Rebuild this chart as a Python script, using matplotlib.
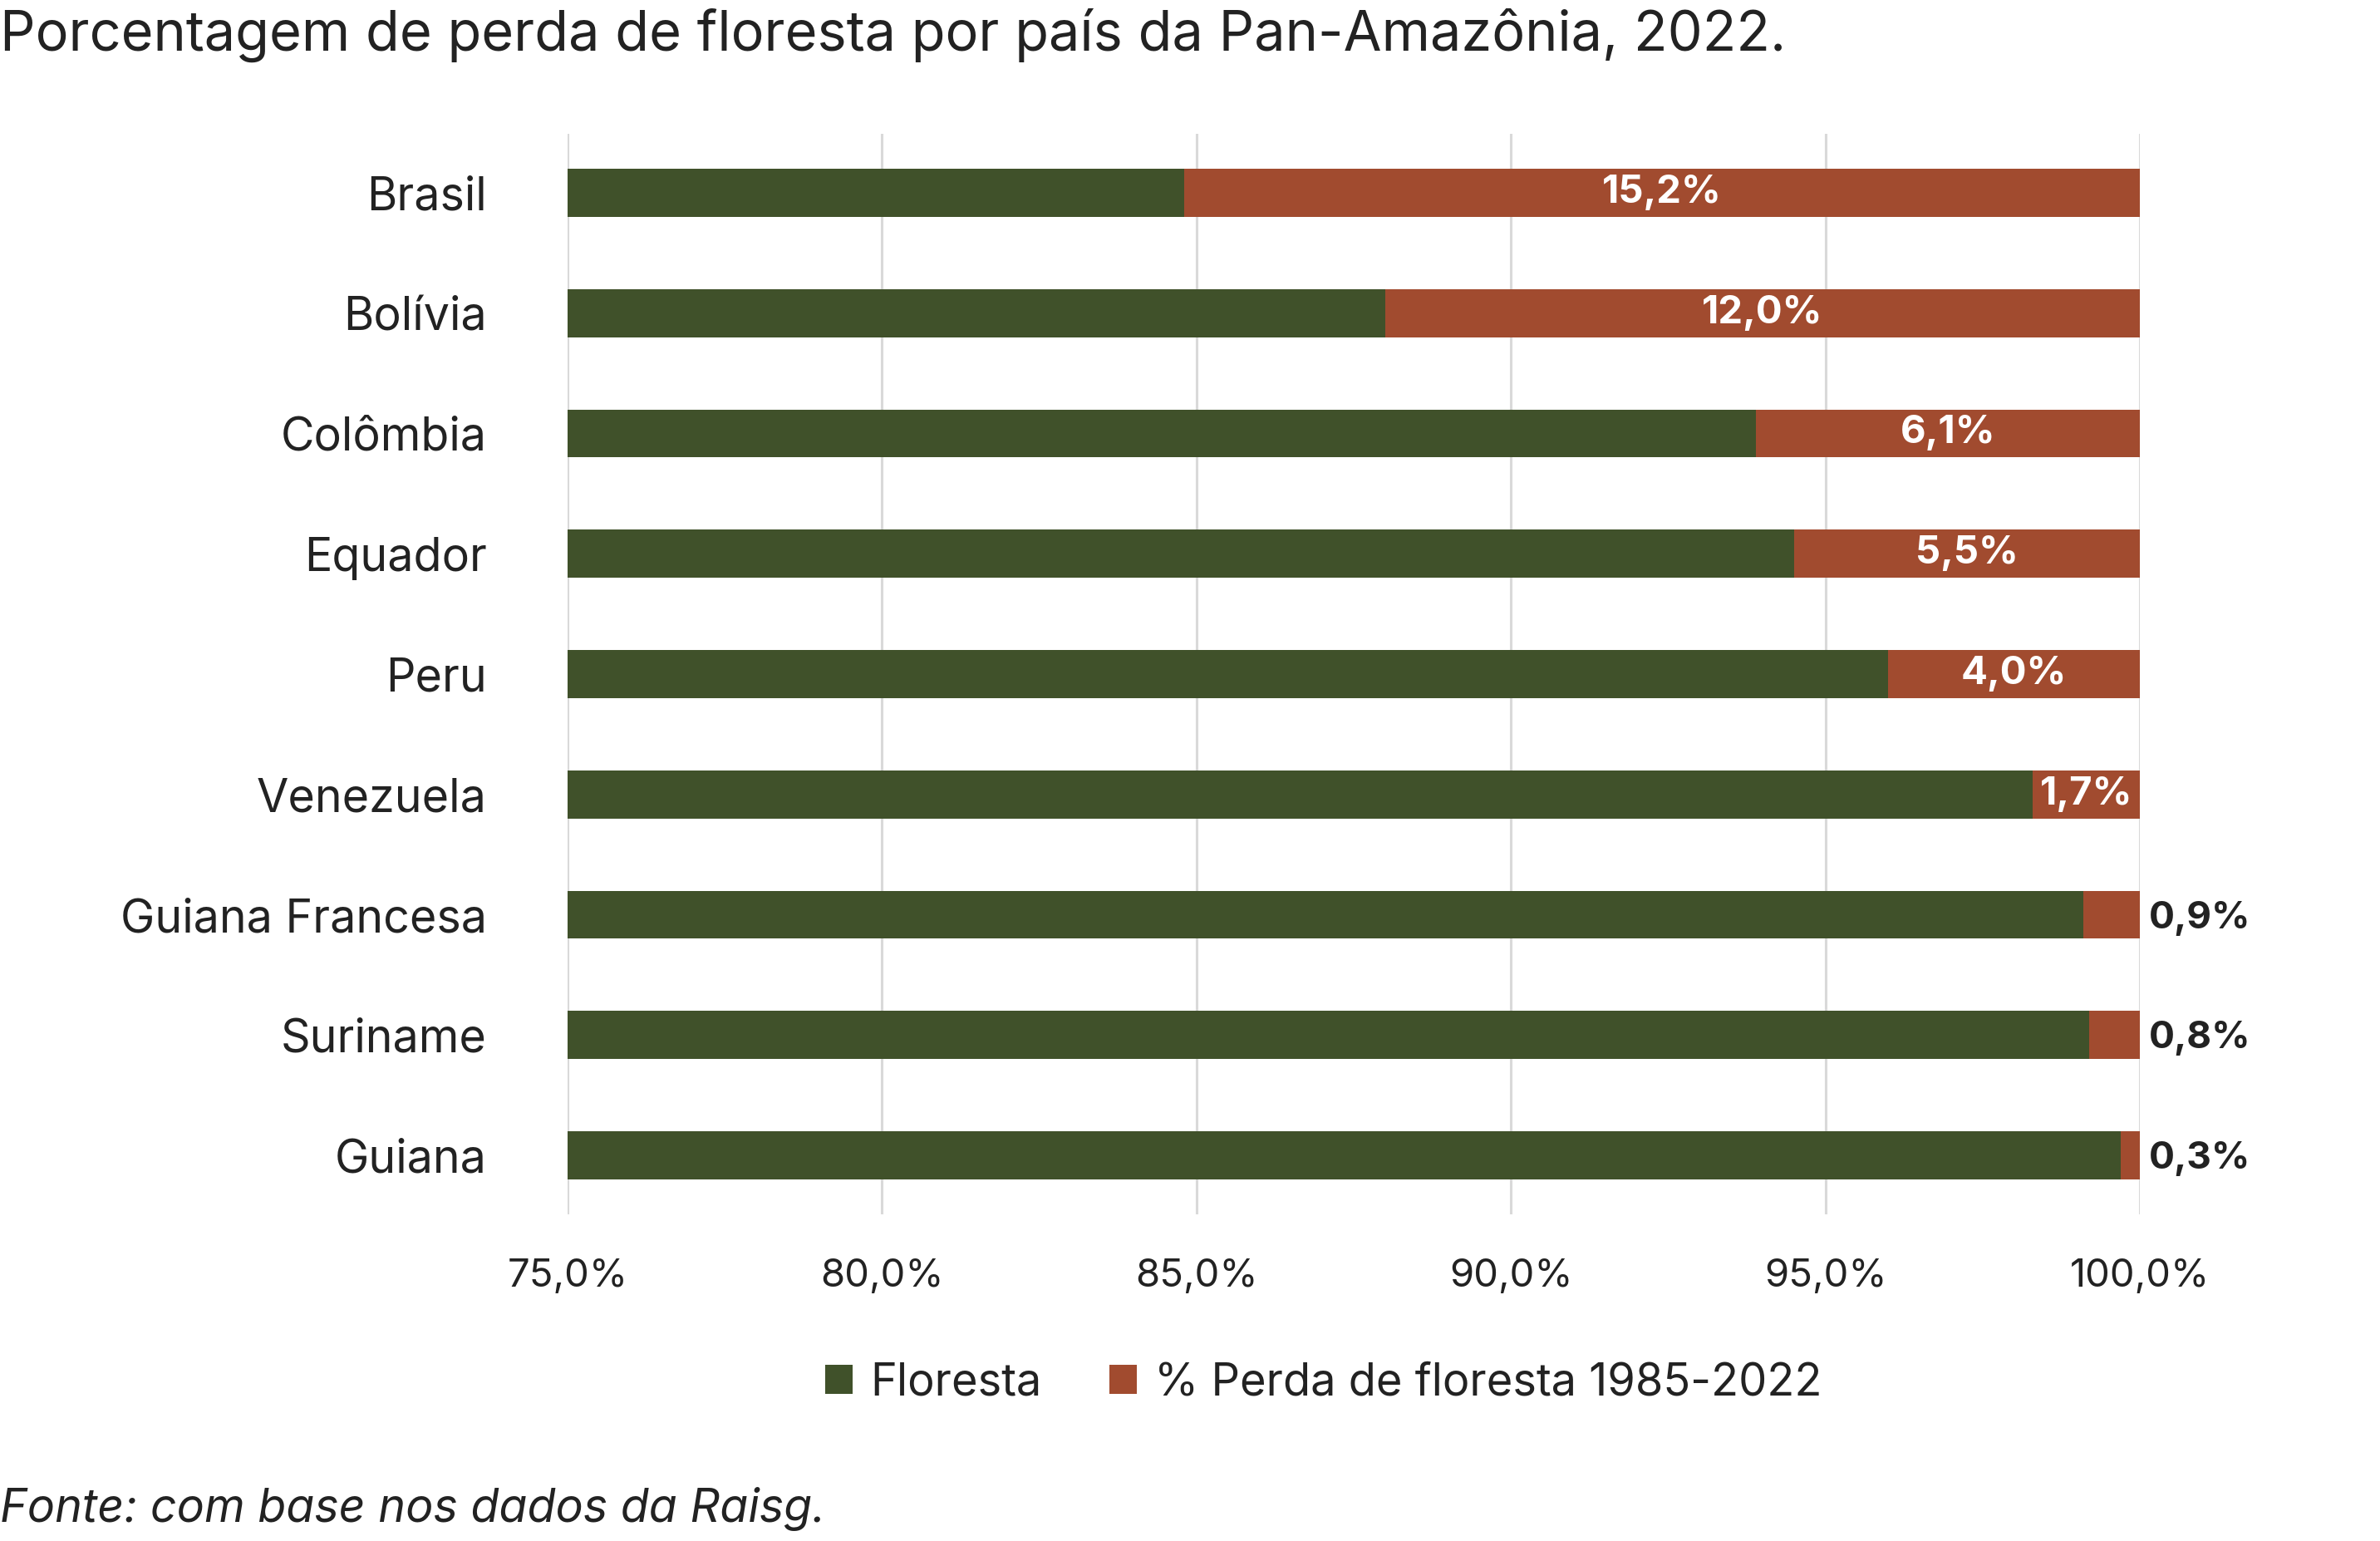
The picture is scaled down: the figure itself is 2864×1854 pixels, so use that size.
import matplotlib
matplotlib.use("Agg")
import matplotlib.pyplot as plt
from matplotlib.patches import Patch

plt.rcParams['font.family'] = ['Inter', 'DejaVu Sans']

countries = ["Brasil", "Bolívia", "Colômbia", "Equador", "Peru", "Venezuela",
             "Guiana Francesa", "Suriname", "Guiana"]
perda = [15.2, 12.0, 6.1, 5.5, 4.0, 1.7, 0.9, 0.8, 0.3]
floresta = [round(100 - p, 1) for p in perda]
xticks = [75, 80, 85, 90, 95, 100]
xtick_labels = ["75,0%", "80,0%", "85,0%", "90,0%", "95,0%", "100,0%"]

GREEN = "#40512A"
RED = "#A14B2F"
TXT = "#222222"

W, H = 2864, 1854
DPI = 200
fig = plt.figure(figsize=(W / DPI, H / DPI), dpi=DPI)
left, right = 683 / W, 2575 / W
top, bottom = 1 - 161 / H, 1 - 1461 / H
ax = fig.add_axes([left, bottom, right - left, top - bottom])

y = list(range(len(countries)))
h = 0.4
ax.barh(y, floresta, left=0, height=h, color=GREEN, zorder=3)
ax.barh(y, perda, left=floresta, height=h, color=RED, zorder=3)

ax.set_xlim(75, 100)
ax.set_ylim(8.49, -0.49)
ax.set_xticks(xticks)
ax.set_xticklabels(xtick_labels)
ax.set_yticks(y)
ax.set_yticklabels(countries)
ax.tick_params(axis='x', length=0, pad=19, labelsize=17, labelcolor=TXT)
ax.tick_params(axis='y', length=0, pad=35, labelsize=20, labelcolor=TXT)
for s in ax.spines.values():
    s.set_visible(False)
ax.grid(axis='x', color="#D9D9D9", lw=1.1, zorder=0)
ax.set_axisbelow(True)

for yi, f, p in zip(y, floresta, perda):
    lab = f"{p:.1f}%".replace(".", ",")
    if p >= 1.5:
        ax.text(f + p / 2, yi, lab, ha='center', va='center', color='white',
                fontsize=17, fontweight='bold', zorder=5)
    else:
        ax.annotate(lab, xy=(100, yi), xytext=(4, -1.5), textcoords='offset points',
                    ha='left', va='center', color=TXT, fontsize=16.5,
                    fontweight='bold', annotation_clip=False)

handles = [Patch(facecolor=GREEN, label="Floresta"),
           Patch(facecolor=RED, label="% Perda de floresta 1985-2022")]
fig.legend(handles=handles, loc='center', bbox_to_anchor=(1593 / W, 1 - 1664 / H),
           ncol=2, frameon=False, fontsize=19.5, handlelength=0.6, handleheight=0.6,
           handletextpad=0.4, columnspacing=1.5, labelcolor=TXT)

fig.text(0.0, 1 - 42 / H, "Porcentagem de perda de floresta por país da Pan-Amazônia, 2022.",
         ha='left', va='center', fontsize=24, color=TXT)
fig.text(0.0, 1 - 1815 / H, "Fonte: com base nos dados da Raisg.",
         ha='left', va='center', fontsize=20, style='italic', color=TXT)

fig.savefig("out.png", dpi=DPI)
